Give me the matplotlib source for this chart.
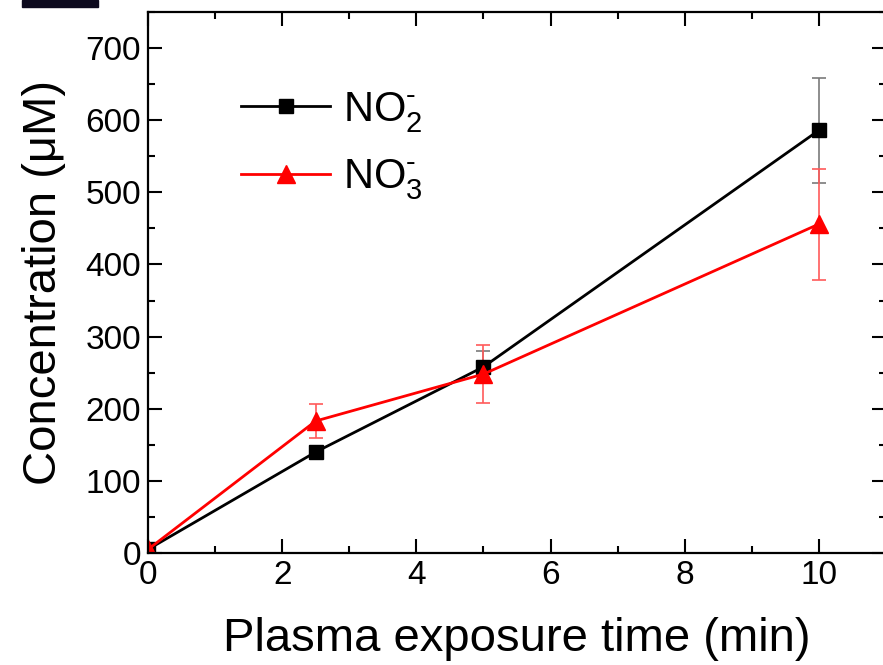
import matplotlib
matplotlib.use("Agg")
import matplotlib.pyplot as plt
from matplotlib.patches import Rectangle
from matplotlib.ticker import MultipleLocator

plt.rcParams["font.family"] = ["Liberation Sans", "DejaVu Sans"]
plt.rcParams["mathtext.fontset"] = "custom"
plt.rcParams["mathtext.rm"] = "Liberation Sans"
plt.rcParams["mathtext.default"] = "regular"

time_min = [0, 2.5, 5, 10]
no2_conc = [5, 140, 258, 586]
no2_err = [0, 8, 22, 73]
no3_conc = [5, 183, 248, 456]
no3_err = [0, 23, 40, 77]

fig = plt.figure(figsize=(8.83, 6.65), dpi=100)
ax = fig.add_axes([148 / 883, 1 - 553 / 665, 738 / 883, (553 - 12) / 665])

eb2 = ax.errorbar(time_min, no2_conc, yerr=no2_err, color="black", lw=2,
                  marker="s", ms=10, ecolor="#7a7a7a", elinewidth=1.2,
                  capsize=5, capthick=1.2)
eb3 = ax.errorbar(time_min, no3_conc, yerr=no3_err, color="red", lw=2,
                  marker="^", ms=13, ecolor="#ff5a5a", elinewidth=1.2,
                  capsize=5, capthick=1.2)

ax.set_xlim(0, 11)
ax.set_ylim(0, 750)
ax.xaxis.set_major_locator(MultipleLocator(2))
ax.xaxis.set_minor_locator(MultipleLocator(1))
ax.yaxis.set_minor_locator(MultipleLocator(50))
ax.set_yticks([0, 100, 200, 300, 400, 500, 600, 700])
ax.tick_params(which="both", direction="in", top=True, right=True,
               width=1.5, labelsize=24)
ax.tick_params(which="major", length=10, pad=5)
ax.tick_params(which="minor", length=5)
for s in ax.spines.values():
    s.set_linewidth(1.6)

ax.set_xlabel("Plasma exposure time (min)", fontsize=34, labelpad=19)
ax.set_ylabel("Concentration (μM)", fontsize=34, labelpad=14)

ax.legend([eb2[0], eb3[0]], [r"NO$_2^{\text{-}}$", r"NO$_3^{\text{-}}$"],
          loc="upper left", bbox_to_anchor=(0.075, 0.925), frameon=False,
          fontsize=30, handlelength=2.15, labelspacing=0.55,
          handletextpad=0.3)

# dark strip at the top-left corner of the original image
fig.patches.append(Rectangle((22 / 883, 1 - 7 / 665), 76 / 883, 7 / 665,
                             transform=fig.transFigure, color="#0d0a1e"))

fig.savefig("out.png", dpi=100)
